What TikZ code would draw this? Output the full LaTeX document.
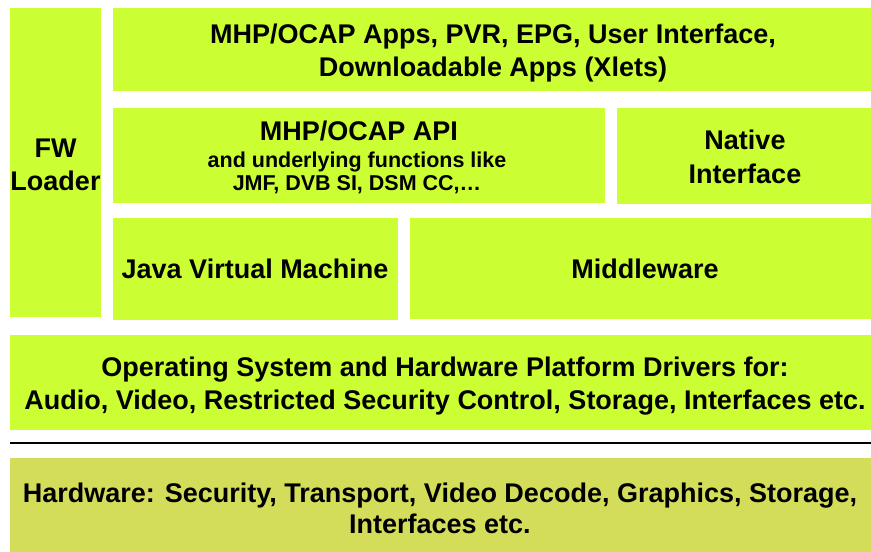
\documentclass[tikz,border=0pt]{standalone}
\usepackage{fontspec}
\setmainfont{Liberation Sans}
\definecolor{lime}{HTML}{CCFF33}
\definecolor{hwcol}{HTML}{D4DD5A}
\begin{document}
\begin{tikzpicture}[x=1pt,y=-1pt,
  blk/.style={fill=lime,draw=none},
  lbl/.style={font=\bfseries\fontsize{27}{33.5}\selectfont,align=center,inner sep=0pt},
  sml/.style={font=\bfseries\fontsize{21.5}{23.5}\selectfont,align=center,inner sep=0pt}]
\useasboundingbox (0,0) rectangle (871,552);
\fill[white] (0,0) rectangle (871,552);
% boxes
\fill[blk] (10,8) rectangle (101,317);
\coordinate (fw) at (55.5,165);
\fill[blk] (113,8) rectangle (871,91);
\coordinate (apps) at (493,53);
\fill[blk] (113,108) rectangle (605,203);
\fill[blk] (617,108) rectangle (871,204);
\coordinate (nat) at (745,157);
\fill[blk] (113,218) rectangle (398,320);
\coordinate (jvm) at (255,269);
\fill[blk] (410,218) rectangle (871,319);
\coordinate (mw) at (645,269);
\fill[blk] (10,335) rectangle (871,430);
\coordinate (os) at (445,386);
\draw[line width=1.2pt] (10,443) coordinate (la) -- (871,443) coordinate (lb);
\fill[hwcol] (10,458) rectangle (871,552);
\coordinate (hw) at (440,508);
% labels
\node[lbl] (nfw) at (fw) {FW\\Loader};
\node[lbl] (napps) at (apps) {MHP/OCAP Apps, PVR, EPG, User Interface,\\Downloadable Apps (Xlets)};
\node[lbl] (napi) at (359,131) {MHP/OCAP API};
\node[sml] (napi2) at (357,173) {and underlying functions like\\JMF, DVB SI, DSM CC,\dots};
\node[lbl] (nnat) at (nat) {Native\\Interface};
\node[lbl] (njvm) at (jvm) {Java Virtual Machine};
\node[lbl] (nmw) at (mw) {Middleware};
\node[lbl] (nos) at (os) {Operating System and Hardware Platform Drivers for:\\Audio, Video, Restricted Security Control, Storage, Interfaces etc.};
\node[lbl,font=\bfseries\fontsize{27}{31}\selectfont] (nhw) at (hw) {Hardware: Security, Transport, Video Decode, Graphics, Storage,\\Interfaces etc.};
\end{tikzpicture}
\end{document}
